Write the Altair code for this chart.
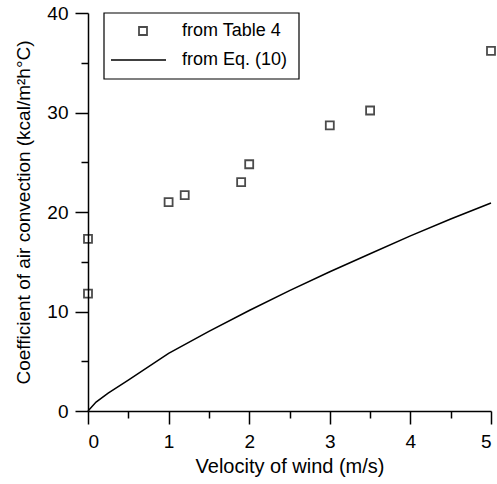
import altair as alt
import pandas as pd

# Data
table_v = [0, 0, 1.0, 1.2, 1.9, 2.0, 3.0, 3.5, 5.0]
table_h = [17.3, 11.8, 21.0, 21.7, 23.0, 24.8, 28.7, 30.2, 36.2]

eq_v = [0, 0.1, 0.25, 0.5, 1.0, 1.5, 2.0, 2.5, 3.0, 3.5, 4.0, 4.5, 5.0]
eq_h = [0, 0.9, 1.8, 3.1, 5.8, 8.0, 10.1, 12.1, 14.0, 15.8, 17.6, 19.3, 20.9]

x_ticks = [0, 0.5, 1, 1.5, 2, 2.5, 3, 3.5, 4, 4.5, 5]
y_ticks = [0, 5, 10, 15, 20, 25, 30, 35, 40]

legend_labels = ["from Table 4", "from Eq. (10)"]

FONT = "Liberation Sans"

pts = pd.DataFrame({"v": table_v, "h": table_h})
eq = pd.DataFrame({"v": eq_v, "h": eq_h})

xs = alt.Scale(domain=[0, 5], nice=False, zero=False)
ys = alt.Scale(domain=[0, 40], nice=False, zero=False)

x_axis = alt.Axis(values=x_ticks, title="Velocity of wind (m/s)", orient="bottom",
                  tickSize={"condition": {"test": "datum.value % 1 != 0", "value": 7}, "value": 13},
                  labelExpr="datum.value % 1 == 0 ? format(datum.value, 'd') : ''",
                  labelPadding=8, titlePadding=5, titleFontSize=20, grid=False)
y_axis = alt.Axis(values=y_ticks, title="Coefficient of air convection (kcal/m²h°C)",
                  orient="left",
                  tickSize={"condition": {"test": "datum.value % 10 != 0", "value": 7}, "value": 13},
                  labelExpr="datum.value % 10 == 0 ? format(datum.value, 'd') : ''",
                  labelPadding=7, titlePadding=13, titleFontSize=19, grid=False)

line = alt.Chart(eq).mark_line(color="black", strokeWidth=1.5).encode(
    x=alt.X("v:Q", scale=xs, axis=x_axis),
    y=alt.Y("h:Q", scale=ys, axis=y_axis),
)

points = alt.Chart(pts).mark_point(shape="square", filled=False, color="black",
                                   size=64, strokeWidth=1.8).encode(
    x=alt.X("v:Q", scale=xs),
    y=alt.Y("h:Q", scale=ys),
)

# Legend drawn manually
leg_box = alt.Chart(pd.DataFrame({"a": [0]})).mark_rect(
    fill="white", stroke="black", strokeWidth=1.2).encode(
    x=alt.value(16), x2=alt.value(211), y=alt.value(0), y2=alt.value(66))
leg_sym = alt.Chart(pd.DataFrame({"a": [0]})).mark_point(
    shape="square", filled=False, color="black", size=64, strokeWidth=1.8).encode(
    x=alt.value(55), y=alt.value(18))
leg_line = alt.Chart(pd.DataFrame({"a": [0]})).mark_rule(color="black", strokeWidth=1.5).encode(
    x=alt.value(23), x2=alt.value(78), y=alt.value(47))
leg_t1 = alt.Chart(pd.DataFrame({"t": [legend_labels[0]]})).mark_text(
    align="left", baseline="middle", font=FONT, fontSize=18, color="black").encode(
    text="t:N", x=alt.value(94), y=alt.value(18))
leg_t2 = alt.Chart(pd.DataFrame({"t": [legend_labels[1]]})).mark_text(
    align="left", baseline="middle", font=FONT, fontSize=18, color="black").encode(
    text="t:N", x=alt.value(94), y=alt.value(47))

chart = alt.layer(line, points, leg_box, leg_sym, leg_line, leg_t1, leg_t2).properties(
    width=403, height=398,
    autosize=alt.AutoSizeParams(type="none"),
    padding={"left": 88, "top": 13, "right": 6, "bottom": 73},
    background="white",
).configure_view(stroke=None).configure_axis(
    domainColor="black", tickColor="black", labelColor="black", titleColor="black",
    labelFont=FONT, titleFont=FONT, labelFontSize=19, titleFontSize=19,
    titleFontWeight="normal", domainWidth=1.5, tickWidth=1.5,
)

chart.save("out.html", embed_options={"renderer": "svg", "actions": False})
